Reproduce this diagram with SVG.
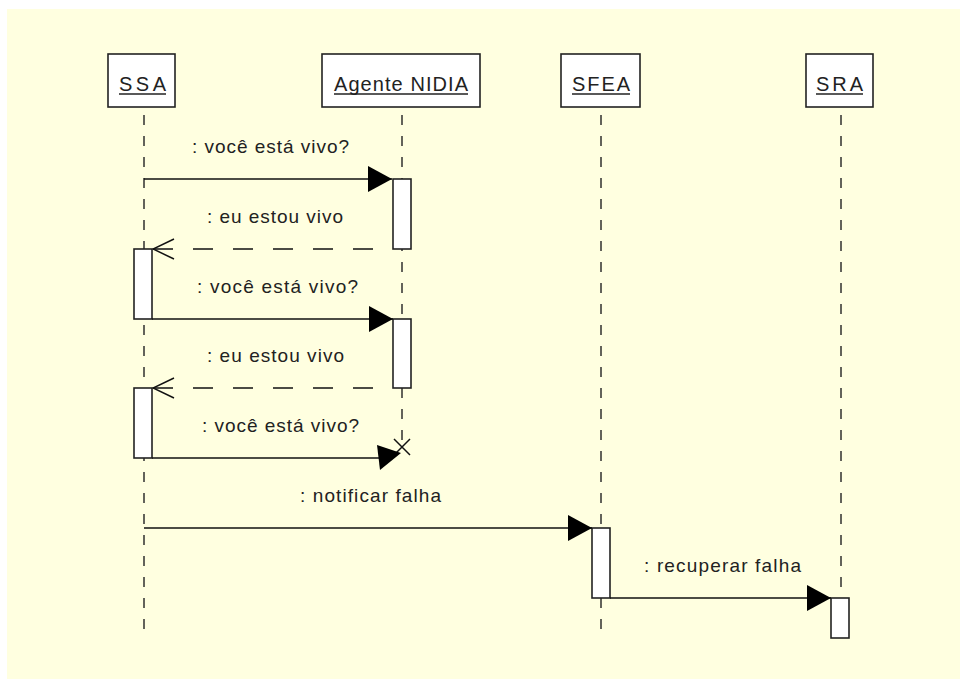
<svg xmlns="http://www.w3.org/2000/svg" width="960" height="679" viewBox="0 0 960 679">
<style>
.bg{fill:#FFFFE0}
.hdr{fill:#fff;stroke:#222;stroke-width:1.6}
.hdrtxt{font-family:"Liberation Sans",Arial,sans-serif;font-size:20px;fill:#222}
.ul{stroke:#222;stroke-width:1.4}
.life{stroke:#222;stroke-width:1.4;stroke-dasharray:10 11;fill:none}
.act{fill:#fff;stroke:#222;stroke-width:1.6}
.msg{stroke:#111;stroke-width:1.5;fill:none}
.ret{stroke:#111;stroke-width:1.5;fill:none;stroke-dasharray:20 20}
.lbl{font-family:"Liberation Sans",Arial,sans-serif;font-size:19px;fill:#222}
.head{fill:#000}
</style>
<defs>
<marker id="filled" markerUnits="userSpaceOnUse" viewBox="0 0 24 26" markerWidth="24" markerHeight="26" refX="24" refY="13" orient="auto">
<path d="M0,0 L24,13 L0,26 z" fill="#000"/>
</marker>
<marker id="open" markerUnits="userSpaceOnUse" viewBox="-1 -12 24 24" markerWidth="24" markerHeight="24" refX="0" refY="0" orient="0">
<path d="M21,-10 L0,0 L21,10" fill="none" stroke="#111" stroke-width="1.5"/>
</marker>
</defs>
<rect x="0" y="0" width="960" height="679" fill="#fff"/>
<rect class="bg" x="7" y="9" width="953" height="670"/>

<g id="lifelines">
<line class="life" x1="144" y1="115" x2="144" y2="640"/>
<line class="life" x1="402" y1="115" x2="402" y2="448"/>
<line class="life" x1="601" y1="115" x2="601" y2="640"/>
<line class="life" x1="841" y1="115" x2="841" y2="640"/>
</g>

<g id="SSA">
<rect class="hdr" x="108" y="54" width="67" height="53"/>
<text class="hdrtxt" x="119" y="91" textLength="47" lengthAdjust="spacing">SSA</text>
<line class="ul" x1="119" y1="94" x2="166" y2="94"/>
<rect class="act" x="134" y="249" width="18" height="70"/>
<rect class="act" x="134" y="388" width="18" height="70"/>
</g>
<g id="AgenteNIDIA">
<rect class="hdr" x="322" y="54" width="158" height="53"/>
<text class="hdrtxt" x="334" y="91" textLength="134" lengthAdjust="spacing">Agente NIDIA</text>
<line class="ul" x1="334" y1="94" x2="468" y2="94"/>
<rect class="act" x="393" y="179" width="18" height="70"/>
<rect class="act" x="393" y="319" width="18" height="69"/>
<path d="M394,439 L410,455 M410,439 L394,455" stroke="#111" stroke-width="1.5"/>
</g>
<g id="SFEA">
<rect class="hdr" x="561" y="54" width="79" height="53"/>
<text class="hdrtxt" x="572" y="91" textLength="58" lengthAdjust="spacing">SFEA</text>
<line class="ul" x1="572" y1="94" x2="630" y2="94"/>
<rect class="act" x="592" y="528" width="18" height="70"/>
</g>
<g id="SRA">
<rect class="hdr" x="806" y="54" width="67" height="53"/>
<text class="hdrtxt" x="816" y="91" textLength="47" lengthAdjust="spacing">SRA</text>
<line class="ul" x1="816" y1="94" x2="863" y2="94"/>
<rect class="act" x="831" y="598" width="18" height="40"/>
</g>

<g id="connectors">
<line class="msg" x1="144" y1="179" x2="392" y2="179" marker-end="url(#filled)"/>
<text class="lbl" x="192" y="153" textLength="157" lengthAdjust="spacing">: você está vivo?</text>
<line class="ret" x1="153" y1="249" x2="393" y2="249" marker-start="url(#open)"/>
<text class="lbl" x="207" y="222.5" textLength="136" lengthAdjust="spacing">: eu estou vivo</text>
<line class="msg" x1="152" y1="319" x2="393" y2="319" marker-end="url(#filled)"/>
<text class="lbl" x="197" y="292.5" textLength="161" lengthAdjust="spacing">: você está vivo?</text>
<line class="ret" x1="153" y1="388" x2="393" y2="388" marker-start="url(#open)"/>
<text class="lbl" x="207" y="361.5" textLength="137" lengthAdjust="spacing">: eu estou vivo</text>
<line class="msg" x1="152" y1="458" x2="382" y2="458"/>
<polygon class="head" points="377,445 380,470 401,453"/>
<text class="lbl" x="202" y="431.5" textLength="157" lengthAdjust="spacing">: você está vivo?</text>
<line class="msg" x1="144" y1="528" x2="592" y2="528" marker-end="url(#filled)"/>
<text class="lbl" x="300" y="502" textLength="141" lengthAdjust="spacing">: notificar falha</text>
<line class="msg" x1="610" y1="598" x2="831" y2="598" marker-end="url(#filled)"/>
<text class="lbl" x="644" y="572" textLength="157" lengthAdjust="spacing">: recuperar falha</text>
</g>
</svg>
